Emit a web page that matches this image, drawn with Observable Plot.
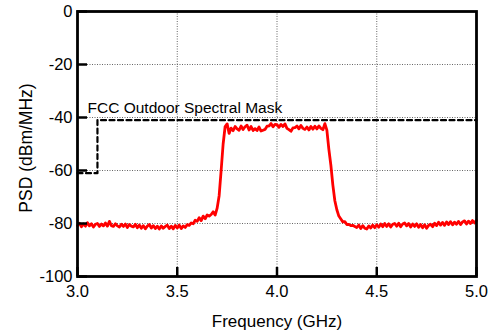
<!DOCTYPE html>
<html>
<head>
<meta charset="utf-8">
<script src="https://cdn.jsdelivr.net/npm/d3@7"></script>
<script src="https://cdn.jsdelivr.net/npm/@observablehq/plot@0.6"></script>
<style>
  html, body { margin: 0; padding: 0; background: #fff; }
  svg { display: block; }
</style>
</head>
<body>
<div id="chart"></div>
<script>
// Measured PSD trace (dBm/MHz), sampled every 0.01 GHz from 3.00 to 5.00 GHz
const freqStart = 3.0;
const freqStep = 0.01;
const psd = [
  -80.8, -79.9, -81.2, -80.2, -81.0, -79.7, -80.9, -80.1, -81.3, -80.3,
  -80.0, -81.1, -80.2, -80.9, -79.8, -81.0, -79.2, -80.8, -81.1, -80.1,
  -80.9, -81.3, -80.3, -81.1, -80.2, -81.5, -80.4, -81.0, -81.3, -80.3,
  -81.6, -80.6, -81.8, -80.8, -82.0, -81.0, -80.4, -81.7, -80.8, -81.9,
  -81.0, -82.1, -80.9, -81.8, -81.1, -80.6, -81.9, -81.0, -82.0, -80.7,
  -81.7, -80.6, -81.9, -80.9, -81.5, -80.4, -80.7, -79.8, -80.1, -78.8,
  -79.2, -77.8, -78.9, -77.2, -78.2, -76.8, -77.2, -76.6, -75.6, -76.8,
  -74.2, -69.5, -60.0, -50.0, -43.4, -42.4, -46.0, -44.0, -45.0, -43.4,
  -44.3, -44.8, -43.2, -44.5, -43.5, -42.9, -44.7, -43.4, -44.9, -44.2,
  -44.9, -43.6, -45.1, -44.8, -44.5, -43.3, -43.2, -42.3, -43.5, -42.6,
  -42.7, -43.7, -42.6, -43.4, -42.4, -44.1, -44.6, -45.2, -43.9, -43.8,
  -43.2, -44.3, -43.0, -44.1, -44.5, -43.6, -44.7, -43.4, -44.4, -43.3,
  -44.3, -43.2, -44.1, -44.6, -42.3, -44.8, -52.0, -58.0, -65.5, -71.4,
  -74.8, -77.2, -78.3, -79.4, -79.3, -80.4, -80.3, -80.8, -80.7, -81.1,
  -81.5, -80.6, -81.9, -80.8, -81.8, -82.1, -80.9, -81.7, -80.6, -81.6,
  -80.5, -81.4, -80.2, -81.2, -80.0, -81.1, -80.1, -81.3, -80.3, -80.0,
  -81.0, -79.9, -81.2, -80.2, -79.8, -80.9, -80.0, -81.3, -80.2, -81.1,
  -80.1, -81.4, -80.4, -81.6, -80.5, -81.8, -80.7, -80.3, -81.2, -79.9,
  -80.8, -79.5, -80.6, -79.6, -80.7, -79.4, -80.4, -79.3, -80.5, -79.5,
  -80.3, -79.2, -80.4, -79.4, -79.0, -80.2, -79.1, -80.0, -78.9, -79.8,
  -78.8
];

// FCC outdoor spectral mask (GHz, dBm/MHz)
const maskFreq = [3.0, 3.1, 3.1, 5.0];
const maskLevel = [-61, -61, -41, -41];
const maskLabel = "FCC Outdoor Spectral Mask";

// Axis ticks and titles
const xTicks = [3.0, 3.5, 4.0, 4.5, 5.0];
const yTicks = [-100, -80, -60, -40, -20, 0];
const xGrid = [3.5, 4.0, 4.5];
const yGrid = [-80, -60, -40, -20];
const xTitle = "Frequency (GHz)";
const yTitle = "PSD (dBm/MHz)";

const signal = psd.map((v, i) => ({f: +(freqStart + i * freqStep).toFixed(2), p: v}));
const mask = maskFreq.map((f, i) => ({f, p: maskLevel[i]}));

const font = "'Liberation Sans', Arial, Helvetica, sans-serif";

const chart = Plot.plot({
  width: 491,
  height: 335,
  marginLeft: 77,
  marginRight: 15,
  marginTop: 11,
  marginBottom: 59,
  style: {fontFamily: font, fontSize: "16px", color: "#000", background: "#fff", overflow: "visible"},
  x: {domain: [3, 5], label: null},
  y: {domain: [-100, 0], label: null},
  marks: [
    Plot.gridX(xGrid, {stroke: "#666", strokeOpacity: 1, strokeWidth: 1, strokeDasharray: "1,1.5"}),
    Plot.gridY(yGrid, {stroke: "#666", strokeOpacity: 1, strokeWidth: 1, strokeDasharray: "1,1.5"}),
    Plot.line(mask, {x: "f", y: "p", stroke: "#000", strokeWidth: 2.2, strokeDasharray: "5,3.5"}),
    Plot.line(signal, {x: "f", y: "p", stroke: "#ff0000", strokeWidth: 2.8, strokeLinejoin: "round"}),
    Plot.text([maskLabel], {x: maskFreq[0], y: maskLevel[2], text: d => d, textAnchor: "start", lineAnchor: "bottom", dx: 10, dy: -7, fontSize: 15.5, fill: "#000"}),
    Plot.frame({stroke: "#000", strokeWidth: 2.8}),
    Plot.axisX({ticks: xTicks, tickSize: -9, tickPadding: 18, strokeWidth: 2.5, tickFormat: d => d.toFixed(1), fontSize: 16.5, label: null}),
    Plot.axisY({ticks: yTicks, tickSize: -10, tickPadding: 15, strokeWidth: 2.5, tickFormat: d => `${d}`, fontSize: 16.5, label: null}),
    Plot.text([xTitle], {frameAnchor: "bottom", text: d => d, textAnchor: "middle", lineAnchor: "bottom", dy: 50, fontSize: 17, fill: "#000"}),
    Plot.text([yTitle], {frameAnchor: "left", text: d => d, rotate: -90, textAnchor: "middle", lineAnchor: "middle", dx: -51, dy: 4, fontSize: 17.5, fill: "#000"})
  ]
});

document.getElementById("chart").appendChild(chart);
</script>
</body>
</html>
